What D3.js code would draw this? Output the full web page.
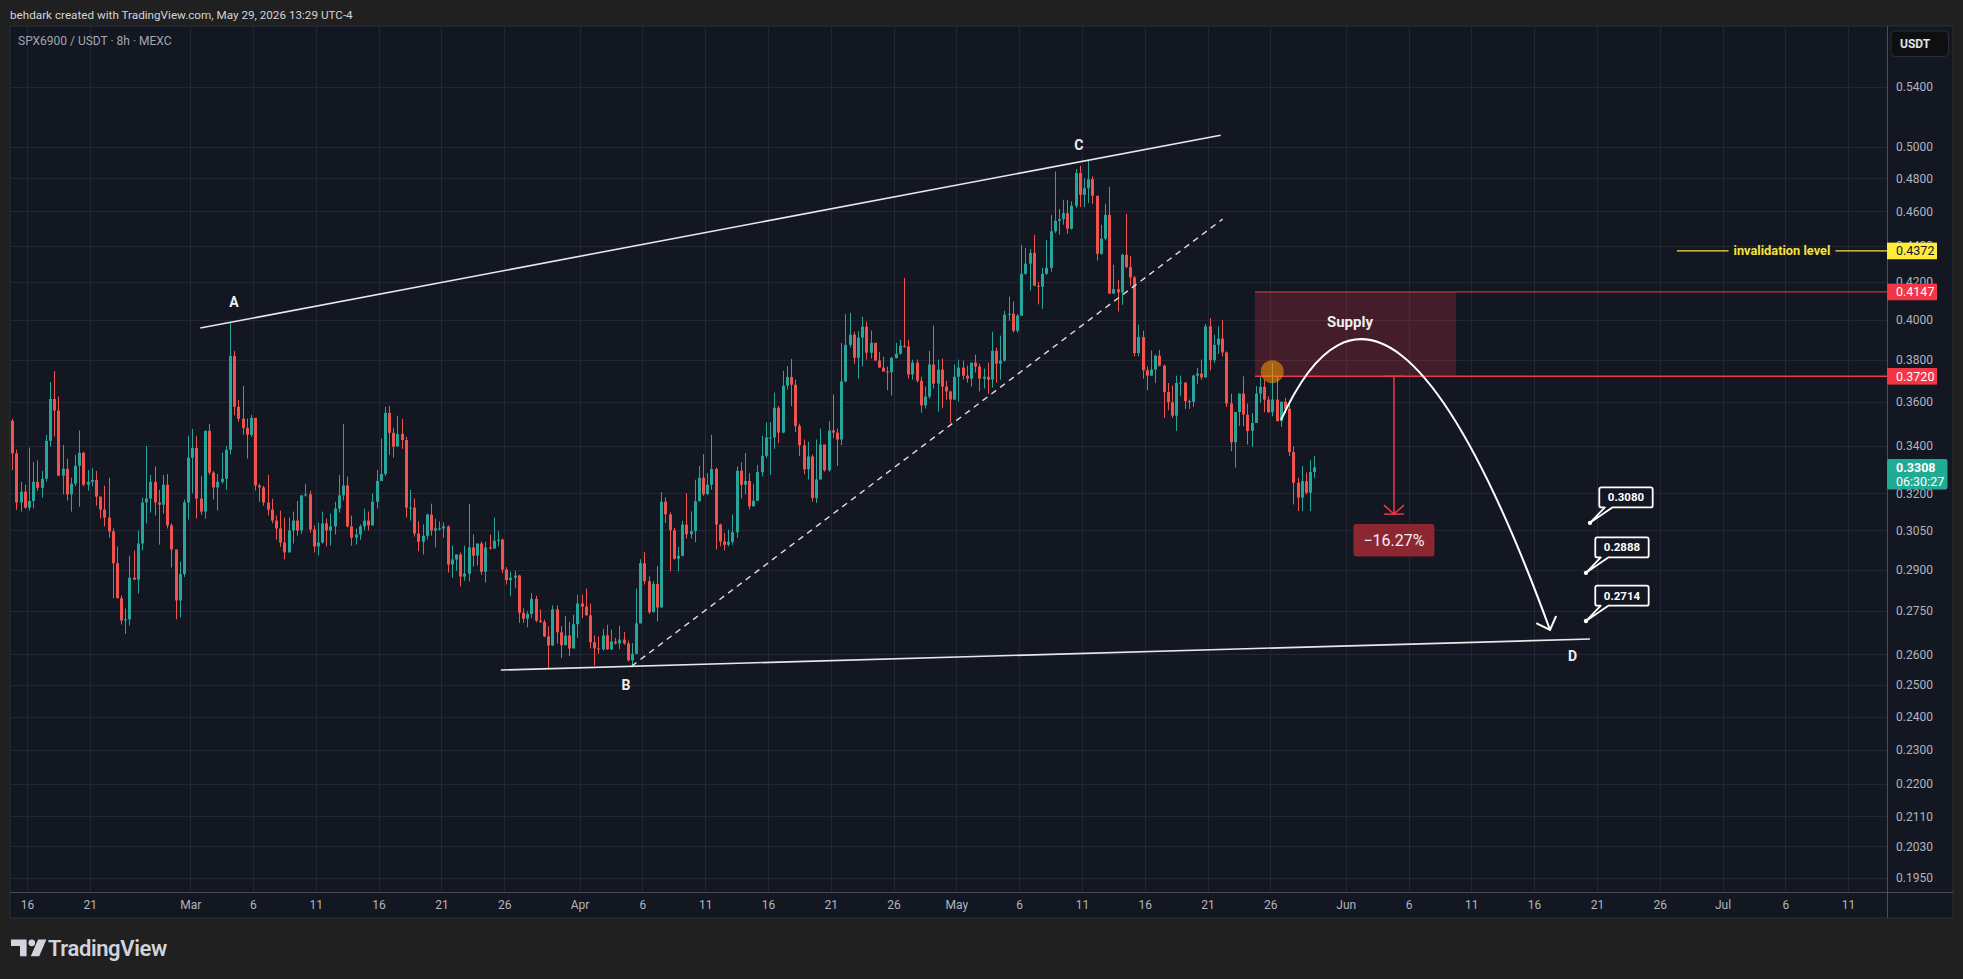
<!DOCTYPE html>
<html><head><meta charset="utf-8">
<script src="https://cdn.jsdelivr.net/npm/d3@7"></script>
<style>
html,body{margin:0;padding:0;background:#202020;overflow:hidden;}
svg{display:block;}
text{font-family:Roboto,"Noto Sans",sans-serif;}
</style></head><body>
<svg id="c" width="1963" height="979"></svg>
<script>
// ================= DATA =================
const headerText = "behdark created with TradingView.com, May 29, 2026 13:29 UTC-4";
const symbolText = "SPX6900 / USDT · 8h · MEXC";
const firstCandleTime = "2026-02-14T20:00:00Z";   // 8h candles
const candleHours = 8;
const firstOpen = 0.3513;
const closes = [
0.3368,0.3162,0.3206,0.3141,0.3168,0.3247,0.3222,0.3260,0.3423,0.3613,
0.3559,0.3273,0.3302,0.3195,0.3239,0.3315,0.3371,0.3235,0.3247,0.3255,
0.3186,0.3133,0.3101,0.3046,0.2924,0.2795,0.2716,0.2720,0.2870,0.2863,
0.2999,0.3162,0.3178,0.3247,0.3162,0.3153,0.3235,0.3070,0.2976,0.2787,
0.2884,0.3162,0.3350,0.3392,0.3178,0.3125,0.3468,0.3286,0.3224,0.3247,
0.3260,0.3384,0.3819,0.3577,0.3522,0.3481,0.3450,0.3526,0.3232,0.3224,
0.3162,0.3133,0.3089,0.3058,0.3003,0.2965,0.3050,0.3089,0.3050,0.3191,
0.3195,0.3054,0.2988,0.3003,0.3078,0.3050,0.3066,0.3137,0.3191,0.3232,
0.3066,0.3022,0.3034,0.3066,0.3089,0.3070,0.3165,0.3251,0.3280,0.3549,
0.3459,0.3398,0.3454,0.3427,0.3141,0.3141,0.3038,0.3006,0.3029,0.3113,
0.3050,0.3058,0.3058,0.3066,0.2919,0.2938,0.2957,0.2874,0.2885,0.2984,
0.2953,0.2999,0.2892,0.2984,0.2980,0.3010,0.3014,0.2900,0.2861,0.2870,
0.2878,0.2743,0.2722,0.2739,0.2793,0.2716,0.2711,0.2661,0.2630,0.2755,
0.2675,0.2631,0.2664,0.2620,0.2703,0.2776,0.2765,0.2734,0.2641,0.2620,
0.2617,0.2664,0.2617,0.2643,0.2637,0.2650,0.2637,0.2580,0.2602,0.2706,
0.2924,0.2857,0.2745,0.2847,0.2762,0.3165,0.3114,0.3050,0.2941,0.2952,
0.3073,0.3035,0.3047,0.3167,0.3264,0.3196,0.3235,0.3301,0.3073,0.3007,
0.2994,0.3006,0.3043,0.3294,0.3235,0.3251,0.3146,0.3169,0.3288,0.3358,
0.3438,0.3438,0.3572,0.3460,0.3675,0.3717,0.3680,0.3489,0.3404,0.3300,
0.3355,0.3180,0.3257,0.3407,0.3296,0.3469,0.3460,0.3429,0.3696,0.3874,
0.3925,0.3810,0.3910,0.3966,0.3835,0.3884,0.3796,0.3762,0.3743,0.3740,
0.3809,0.3830,0.3869,0.3866,0.3728,0.3786,0.3699,0.3583,0.3624,0.3777,
0.3685,0.3752,0.3671,0.3648,0.3610,0.3718,0.3762,0.3723,0.3709,0.3786,
0.3767,0.3709,0.3718,0.3704,0.3844,0.3781,0.3796,0.4027,0.4032,0.3945,
0.4022,0.4245,0.4301,0.4361,0.4180,0.4175,0.4245,0.4278,0.4484,0.4545,
0.4555,0.4590,0.4499,0.4634,0.4833,0.4700,0.4740,0.4795,0.4694,0.4356,
0.4442,0.4580,0.4138,0.4162,0.4145,0.4350,0.4282,0.4225,0.3833,0.3913,
0.3749,0.3723,0.3752,0.3820,0.3771,0.3645,0.3598,0.3536,0.3688,0.3690,
0.3603,0.3600,0.3723,0.3733,0.3715,0.3967,0.3798,0.3874,0.3905,0.3836,
0.3592,0.3417,0.3553,0.3638,0.3541,0.3467,0.3503,0.3638,0.3670,0.3610,
0.3552,0.3610,0.3511,0.3600,0.3567,0.3374,0.3243,0.3182,0.3250,0.3202,
0.3289,0.3308];
const highs = [
0.3522,0.3384,0.3247,0.3235,0.3394,0.3332,0.3338,0.3293,0.3450,0.3693,
0.3745,0.3624,0.3405,0.3345,0.3265,0.3362,0.3469,0.3375,0.3297,0.3306,
0.3293,0.3186,0.3231,0.3264,0.3058,0.2988,0.2805,0.2758,0.2952,0.2972,
0.3050,0.3181,0.3401,0.3276,0.3312,0.3214,0.3276,0.3280,0.3078,0.2975,
0.2930,0.3174,0.3445,0.3476,0.3445,0.3272,0.3468,0.3499,0.3293,0.3280,
0.3371,0.3401,0.3990,0.3844,0.3608,0.3674,0.3523,0.3540,0.3526,0.3239,
0.3231,0.3276,0.3177,0.3109,0.3129,0.3101,0.3101,0.3125,0.3168,0.3191,
0.3239,0.3210,0.3070,0.3082,0.3125,0.3097,0.3117,0.3165,0.3276,0.3499,
0.3269,0.3109,0.3058,0.3074,0.3137,0.3125,0.3199,0.3297,0.3433,0.3576,
0.3580,0.3481,0.3536,0.3522,0.3441,0.3214,0.3178,0.3086,0.3074,0.3117,
0.3157,0.3097,0.3086,0.3082,0.3070,0.2991,0.2957,0.2965,0.2991,0.3157,
0.3034,0.2999,0.3006,0.3006,0.3034,0.3101,0.3047,0.3018,0.2909,0.2892,
0.2896,0.2881,0.2759,0.2749,0.2814,0.2804,0.2755,0.2719,0.2696,0.2769,
0.2769,0.2696,0.2732,0.2711,0.2736,0.2808,0.2808,0.2830,0.2776,0.2664,
0.2661,0.2687,0.2701,0.2684,0.2656,0.2698,0.2676,0.2647,0.2638,0.2830,
0.2939,0.2966,0.2875,0.2857,0.2914,0.3204,0.3183,0.3122,0.3060,0.2986,
0.3088,0.3200,0.3126,0.3256,0.3314,0.3365,0.3284,0.3450,0.3308,0.3077,
0.3040,0.3053,0.3113,0.3312,0.3330,0.3370,0.3284,0.3239,0.3318,0.3446,
0.3505,0.3507,0.3643,0.3581,0.3746,0.3769,0.3804,0.3704,0.3500,0.3429,
0.3419,0.3363,0.3429,0.3478,0.3407,0.3511,0.3634,0.3478,0.3883,0.4030,
0.4037,0.3940,0.3942,0.4016,0.3991,0.3946,0.3884,0.3839,0.3815,0.3767,
0.3814,0.3884,0.3899,0.4223,0.3899,0.3801,0.3801,0.3718,0.3671,0.3844,
0.3971,0.3801,0.3806,0.3699,0.3652,0.3777,0.3801,0.3796,0.3772,0.3786,
0.3825,0.3781,0.3757,0.3786,0.3940,0.3859,0.3920,0.4048,0.4122,0.4096,
0.4032,0.4406,0.4389,0.4384,0.4464,0.4201,0.4278,0.4435,0.4580,0.4843,
0.4614,0.4670,0.4670,0.4660,0.4858,0.4879,0.4801,0.4912,0.4812,0.4694,
0.4522,0.4646,0.4748,0.4295,0.4212,0.4356,0.4586,0.4345,0.4234,0.3976,
0.3945,0.3768,0.3846,0.3825,0.3849,0.3777,0.3688,0.3676,0.3723,0.3723,
0.3688,0.3610,0.3728,0.3760,0.3801,0.3980,0.4010,0.3925,0.3967,0.4001,
0.3841,0.3638,0.3553,0.3638,0.3720,0.3592,0.3548,0.3673,0.3720,0.3704,
0.3626,0.3785,0.3720,0.3600,0.3618,0.3595,0.3400,0.3264,0.3314,0.3286,
0.3340,0.3357];
const lows = [
0.3297,0.3132,0.3125,0.3137,0.3129,0.3138,0.3210,0.3182,0.3249,0.3398,
0.3442,0.3273,0.3195,0.3170,0.3125,0.3228,0.3145,0.3228,0.3211,0.3228,
0.3149,0.3097,0.3066,0.3022,0.2795,0.2795,0.2702,0.2669,0.2699,0.2861,
0.2812,0.2972,0.3078,0.3121,0.3109,0.2995,0.3117,0.3058,0.2908,0.2720,
0.2727,0.2873,0.3093,0.3199,0.3097,0.3113,0.3097,0.3277,0.3174,0.3129,
0.3239,0.3214,0.3364,0.3538,0.3508,0.3450,0.3346,0.3441,0.3211,0.3165,
0.3149,0.3109,0.3078,0.3014,0.2986,0.2938,0.2969,0.2999,0.3030,0.3037,
0.3186,0.3041,0.2965,0.2953,0.2999,0.2988,0.2991,0.3034,0.3121,0.3170,
0.3062,0.2991,0.2995,0.3014,0.3050,0.3050,0.3070,0.3137,0.3257,0.3272,
0.3362,0.3351,0.3398,0.3388,0.3101,0.3089,0.3026,0.2969,0.2957,0.3014,
0.3030,0.2984,0.3050,0.3022,0.2889,0.2870,0.2896,0.2838,0.2859,0.2856,
0.2911,0.2915,0.2881,0.2852,0.2976,0.2980,0.2988,0.2887,0.2845,0.2802,
0.2831,0.2708,0.2708,0.2692,0.2724,0.2710,0.2708,0.2658,0.2553,0.2628,
0.2637,0.2588,0.2630,0.2594,0.2620,0.2656,0.2724,0.2734,0.2620,0.2563,
0.2602,0.2613,0.2615,0.2615,0.2633,0.2617,0.2632,0.2577,0.2558,0.2602,
0.2706,0.2845,0.2739,0.2745,0.2713,0.2762,0.3080,0.2894,0.2937,0.2894,
0.2950,0.3018,0.3018,0.3004,0.3166,0.3189,0.3193,0.3214,0.2976,0.2988,
0.2973,0.2988,0.2994,0.3021,0.3179,0.3196,0.3133,0.3153,0.3169,0.3270,
0.3348,0.3277,0.3388,0.3413,0.3457,0.3657,0.3579,0.3462,0.3357,0.3279,
0.3257,0.3165,0.3160,0.3257,0.3290,0.3290,0.3435,0.3314,0.3404,0.3690,
0.3861,0.3781,0.3709,0.3767,0.3801,0.3806,0.3796,0.3762,0.3743,0.3654,
0.3629,0.3806,0.3825,0.3860,0.3709,0.3704,0.3690,0.3550,0.3569,0.3615,
0.3662,0.3555,0.3570,0.3610,0.3502,0.3610,0.3601,0.3704,0.3690,0.3671,
0.3738,0.3648,0.3662,0.3638,0.3666,0.3690,0.3704,0.3791,0.3996,0.3935,
0.3935,0.4022,0.4239,0.4154,0.4180,0.4081,0.4058,0.4239,0.4256,0.4474,
0.4464,0.4522,0.4470,0.4493,0.4620,0.4626,0.4626,0.4650,0.4644,0.4319,
0.4350,0.4432,0.4138,0.4138,0.4044,0.4079,0.4276,0.4180,0.3817,0.3817,
0.3709,0.3654,0.3723,0.3688,0.3768,0.3526,0.3561,0.3526,0.3467,0.3626,
0.3567,0.3567,0.3576,0.3685,0.3704,0.3712,0.3749,0.3785,0.3829,0.3817,
0.3576,0.3378,0.3307,0.3489,0.3489,0.3407,0.3397,0.3511,0.3595,0.3552,
0.3548,0.3533,0.3511,0.3486,0.3548,0.3357,0.3154,0.3127,0.3127,0.3195,
0.3127,0.3264];

const xTickDates = ["2026-02-16","2026-02-21","2026-03-01","2026-03-06","2026-03-11","2026-03-16","2026-03-21","2026-03-26",
  "2026-04-01","2026-04-06","2026-04-11","2026-04-16","2026-04-21","2026-04-26","2026-05-01","2026-05-06","2026-05-11",
  "2026-05-16","2026-05-21","2026-05-26","2026-06-01","2026-06-06","2026-06-11","2026-06-16","2026-06-21","2026-06-26",
  "2026-07-01","2026-07-06","2026-07-11"];
const xTickLabels = ["16","21","Mar","6","11","16","21","26","Apr","6","11","16","21","26","May","6","11","16","21","26",
  "Jun","6","11","16","21","26","Jul","6","11"];
const yTicks = [0.54,0.50,0.48,0.46,0.44,0.42,0.40,0.38,0.36,0.34,0.32,0.305,0.29,0.275,0.26,0.25,0.24,0.23,0.22,0.211,0.203,0.195];

// annotations (time, price)
const upperLine  = [["2026-03-01T19:18Z",0.3959],["2026-05-22T01:00Z",0.5075]];
const lowerLine  = [["2026-03-25T17:30Z",0.2548],["2026-06-20T10:48Z",0.2652]];
const dashedLine = [["2026-04-05T03:36Z",0.2561],["2026-05-22T04:48Z",0.4555]];
// projected arc: start, control, end (quadratic curve)
const arcPoints = [["2026-05-26T20:24Z",0.3517],["2026-06-04T07:55Z",0.4754],["2026-06-17T06:29Z",0.2683]];
const waveLabels = ["A","B","C","D"];
const waveLabelPos = [["2026-03-04T11:45Z",0.4095],["2026-04-04T16:48Z",0.2500],["2026-05-10T18:14Z",0.5010],["2026-06-19T01:26Z",0.2595]];
const supplyBox = [["2026-05-24T18:40Z",0.4147],["2026-06-09T18:40Z",0.3720]];
const supplyLabel = ["Supply","2026-06-01T08:10Z",0.3990];
const touchPoint = ["2026-05-26T03:36Z",0.3742];
const invalidation = ["2026-06-27T08:53Z",0.4372,"invalidation level"];
const rangeTool = ["2026-06-04T20:10Z",0.3720,0.3115,"\u221216.27%",0.3012];
const targetTimes = ["2026-06-20T10:48Z","2026-06-20T03:07Z","2026-06-20T03:07Z"];
const targetPrices = [0.3080,0.2888,0.2714];
const levelPrices = [0.4372,0.4147,0.3720];
const levelColors = ["#ffeb3b","#f23645","#f23645"];
const lastPrice = 0.3308, countdown = "06:30:27";

// ================= LAYOUT =================
const svg = d3.select("#c");
const PANE = {x0:10, y0:26, x1:1953, y1:918};
const PLOT = {x0:10, y0:26, x1:1887, y1:892};
const BG = "#131722", GRID = "#232733", AXIS_TXT = "#b2b5be";
const UP = "#26a69a", DOWN = "#ef5350";

const x = d3.scaleUtc().domain([new Date("2026-03-01T00:00:00Z"), new Date("2026-07-01T00:00:00Z")]).range([190.2, 1722.5]);
const y = d3.scaleLog().domain([0.54, 0.195]).range([87, 877.7]);
const P = d => [x(new Date(d[0])), y(d[1])];

// header
svg.append("rect").attr("width",1963).attr("height",979).attr("fill","#202020");
svg.append("text").attr("x",10).attr("y",18.5).attr("fill","#d1d4dc").attr("font-size",11.7).text(headerText);

// pane
svg.append("rect").attr("x",PANE.x0).attr("y",PANE.y0).attr("width",PANE.x1-PANE.x0).attr("height",PANE.y1-PANE.y0)
  .attr("fill",BG).attr("stroke","#2a2e39").attr("stroke-width",1);

const defs = svg.append("defs");
defs.append("clipPath").attr("id","plotclip").append("rect")
  .attr("x",PLOT.x0).attr("y",PLOT.y0).attr("width",PLOT.x1-PLOT.x0).attr("height",PLOT.y1-PLOT.y0);
defs.append("marker").attr("id","arrowW").attr("markerUnits","userSpaceOnUse").attr("markerWidth",30).attr("markerHeight",30)
  .attr("viewBox","-15 -15 30 30").attr("refX",0).attr("refY",0).attr("orient","auto")
  .append("path").attr("d","M-10.5,-10 L0,0 L-10.5,10").attr("fill","none").attr("stroke","#ffffff").attr("stroke-width",2).attr("stroke-linecap","round");

const plot = svg.append("g").attr("clip-path","url(#plotclip)");

// grid
plot.selectAll(".vg").data(xTickDates).join("line")
  .attr("x1",d=>Math.round(x(new Date(d+"T00:00:00Z")))+0.5).attr("x2",d=>Math.round(x(new Date(d+"T00:00:00Z")))+0.5)
  .attr("y1",PLOT.y0).attr("y2",PLOT.y1).attr("stroke",GRID).attr("stroke-width",1);
plot.selectAll(".hg").data(yTicks).join("line")
  .attr("y1",d=>Math.round(y(d))+0.5).attr("y2",d=>Math.round(y(d))+0.5)
  .attr("x1",PLOT.x0).attr("x2",PLOT.x1).attr("stroke",GRID).attr("stroke-width",1);

// candles
const t0 = new Date(firstCandleTime).getTime();
const candles = closes.map((c,i)=>({t:new Date(t0 + i*candleHours*3600e3), o: i===0 ? firstOpen : closes[i-1], h:highs[i], l:lows[i], c}));
const cg = plot.append("g");
candles.forEach(d=>{
  const cx = Math.round(x(d.t));
  const col = d.c >= d.o ? UP : DOWN;
  const hi = Math.max(d.h, d.o, d.c), lo = Math.min(d.l, d.o, d.c);
  cg.append("rect").attr("x",cx).attr("y",y(hi)).attr("width",1).attr("height",Math.max(1,y(lo)-y(hi))).attr("fill",col);
  const top = y(Math.max(d.o,d.c)), bot = y(Math.min(d.o,d.c));
  cg.append("rect").attr("x",cx-1).attr("y",top).attr("width",3).attr("height",Math.max(1,bot-top)).attr("fill",col);
});

// supply box & level lines
const sb0 = P(supplyBox[0]), sb1 = P(supplyBox[1]);
plot.append("rect").attr("x",sb0[0]).attr("y",sb0[1]).attr("width",sb1[0]-sb0[0]).attr("height",sb1[1]-sb0[1])
  .attr("fill","rgba(242,54,69,0.22)");
[supplyBox[0][1], supplyBox[1][1]].forEach((p,i)=>{
  plot.append("line").attr("x1",sb0[0]).attr("x2",PLOT.x1).attr("y1",y(p)).attr("y2",y(p))
    .attr("stroke","#f23645").attr("stroke-width",i===0?1:1.4);
});
plot.append("text").attr("x",x(new Date(supplyLabel[1]))).attr("y",y(supplyLabel[2])).attr("dy","0.35em")
  .attr("text-anchor","middle").attr("fill","#eeeeee").attr("font-weight","bold").attr("font-size",15).text(supplyLabel[0]);

// invalidation level
const invX = x(new Date(invalidation[0])), invY = y(invalidation[1]);
const invT = plot.append("text").attr("x",(invX+PLOT.x1)/2).attr("y",invY).attr("dy","0.35em").attr("text-anchor","middle")
  .attr("fill","#f5e43c").attr("font-weight","bold").attr("font-size",12.8).text(invalidation[2]);
const invW = invT.node().getComputedTextLength();
plot.append("line").attr("x1",invX).attr("x2",(invX+PLOT.x1)/2-invW/2-5).attr("y1",invY).attr("y2",invY).attr("stroke","#f5e43c").attr("stroke-width",1.2);
plot.append("line").attr("x1",(invX+PLOT.x1)/2+invW/2+5).attr("x2",PLOT.x1).attr("y1",invY).attr("y2",invY).attr("stroke","#f5e43c").attr("stroke-width",1.2);

// trend lines
const ln = d3.line();
plot.append("path").attr("d",ln(upperLine.map(P))).attr("stroke","#e8e8e8").attr("stroke-width",1.6).attr("fill","none");
plot.append("path").attr("d",ln(lowerLine.map(P))).attr("stroke","#e8e8e8").attr("stroke-width",1.6).attr("fill","none");
plot.append("path").attr("d",ln(dashedLine.map(P))).attr("stroke","#e0e0e0").attr("stroke-width",1.4).attr("fill","none").attr("stroke-dasharray","6,5");

// touch circle
plot.append("circle").attr("cx",P(touchPoint)[0]).attr("cy",P(touchPoint)[1]).attr("r",11.5).attr("fill","rgba(255,152,0,0.55)");

// projected arc
const a0 = P(arcPoints[0]), a1 = P(arcPoints[1]), a2 = P(arcPoints[2]);
const arcPath = d3.path(); arcPath.moveTo(a0[0],a0[1]); arcPath.quadraticCurveTo(a1[0],a1[1],a2[0],a2[1]);
plot.append("path").attr("d",arcPath.toString())
  .attr("stroke","#ffffff").attr("stroke-width",2).attr("fill","none").attr("marker-end","url(#arrowW)");

// wave labels
plot.selectAll(".wl").data(waveLabels).join("text").attr("x",(d,i)=>P(waveLabelPos[i])[0]).attr("y",(d,i)=>P(waveLabelPos[i])[1])
  .attr("dy","0.35em").attr("text-anchor","middle").attr("fill","#eeeeee").attr("font-weight","bold").attr("font-size",14).text(d=>d);

// price range tool
const rx = x(new Date(rangeTool[0])), ry0 = y(rangeTool[1]), ry1 = y(rangeTool[2]);
const RED = "#f23645";
plot.append("line").attr("x1",rx).attr("x2",rx).attr("y1",ry0).attr("y2",ry1).attr("stroke",RED).attr("stroke-width",1.5);
plot.append("line").attr("x1",rx-9).attr("x2",rx+9).attr("y1",ry0).attr("y2",ry0).attr("stroke",RED).attr("stroke-width",1.5);
plot.append("line").attr("x1",rx-10).attr("x2",rx+10).attr("y1",ry1).attr("y2",ry1).attr("stroke",RED).attr("stroke-width",1.5);
plot.append("path").attr("d",`M${rx-10},${ry1-9} L${rx},${ry1} L${rx+10},${ry1-9}`).attr("stroke",RED).attr("stroke-width",1.5).attr("fill","none");
const ly = y(rangeTool[4]);
plot.append("rect").attr("x",rx-40.5).attr("y",ly-16.3).attr("width",81).attr("height",32.6).attr("rx",3).attr("fill","#8c2630");
plot.append("text").attr("x",rx).attr("y",ly).attr("dy","0.35em").attr("text-anchor","middle").attr("fill","#f0f0f0")
  .attr("font-size",16).text(rangeTool[3]);

// target callouts
targetPrices.forEach((p,i)=>{
  const dx = x(new Date(targetTimes[i])), dy = y(p);
  const bx = dx+9.3, by = dy-35.4, w = 53.4, h = 20;
  plot.append("path").attr("d",`M${bx+2},${by} H${bx+w-2} Q${bx+w},${by} ${bx+w},${by+2} V${by+h-2} Q${bx+w},${by+h} ${bx+w-2},${by+h} H${bx+13} L${dx},${dy} L${bx+5.5},${by+h} H${bx+2} Q${bx},${by+h} ${bx},${by+h-2} V${by+2} Q${bx},${by} ${bx+2},${by} Z`)
    .attr("fill",BG).attr("stroke","#ffffff").attr("stroke-width",1.8).attr("stroke-linejoin","round");
  plot.append("circle").attr("cx",dx).attr("cy",dy).attr("r",2.2).attr("fill","#ffffff");
  plot.append("text").attr("x",bx+w/2).attr("y",by+h/2).attr("dy","0.35em").attr("text-anchor","middle")
    .attr("fill","#ffffff").attr("font-weight","bold").attr("font-size",11.5).text(p.toFixed(4));
});

// symbol text
svg.append("text").attr("x",18).attr("y",45).attr("fill","#a3a6af").attr("font-size",12).text(symbolText);

// axes separators
svg.append("line").attr("x1",PLOT.x1+0.5).attr("x2",PLOT.x1+0.5).attr("y1",PANE.y0).attr("y2",PANE.y1).attr("stroke","#4a4d57");
svg.append("line").attr("x1",PANE.x0).attr("x2",PANE.x1).attr("y1",PLOT.y1+0.5).attr("y2",PLOT.y1+0.5).attr("stroke","#4a4d57");

// y axis
const yAxis = svg.append("g").attr("transform",`translate(${PLOT.x1},0)`)
  .call(d3.axisRight(y).tickValues(yTicks).tickFormat(d3.format(".4f")).tickSize(0).tickPadding(9));
yAxis.select(".domain").remove();
yAxis.selectAll("text").attr("fill",AXIS_TXT).attr("font-size",12).attr("font-family","Roboto,'Noto Sans',sans-serif");

// x axis
const xAxis = svg.append("g").attr("transform",`translate(0,${PLOT.y1})`)
  .call(d3.axisBottom(x).tickValues(xTickDates.map(d=>new Date(d+"T00:00:00Z"))).tickFormat((d,i)=>xTickLabels[i]).tickSize(0).tickPadding(8));
xAxis.select(".domain").remove();
xAxis.selectAll("text").attr("fill",AXIS_TXT).attr("font-size",12).attr("font-family","Roboto,'Noto Sans',sans-serif");

// price labels on axis
levelPrices.forEach((p,i)=>{
  const yy = y(p);
  svg.append("rect").attr("x",PLOT.x1).attr("y",yy-8.3).attr("width",50).attr("height",16.6).attr("fill",levelColors[i]);
  svg.append("text").attr("x",PLOT.x1+9).attr("y",yy).attr("dy","0.35em").attr("font-size",12.5)
    .attr("fill",i===0?"#131722":"#ffffff").text(p.toFixed(4));
});
const lpY = y(lastPrice);
svg.append("rect").attr("x",PLOT.x1).attr("y",lpY-8.4).attr("width",60.5).attr("height",30.5).attr("rx",2).attr("fill","#22ab94");
svg.append("text").attr("x",PLOT.x1+9).attr("y",lpY).attr("dy","0.35em").attr("font-size",12.5).attr("font-weight","bold").attr("fill","#ffffff").text(lastPrice.toFixed(4));
svg.append("text").attr("x",PLOT.x1+9).attr("y",lpY+14.5).attr("dy","0.35em").attr("font-size",12.5).attr("fill","#ffffff").text(countdown);

// currency button
svg.append("rect").attr("x",1891).attr("y",31).attr("width",57.5).attr("height",25.5).attr("rx",4).attr("fill","#0f0f0f").attr("stroke","#2a2e39");
svg.append("text").attr("x",1900).attr("y",44).attr("dy","0.35em").attr("font-size",12).attr("font-weight","bold").attr("fill","#e0e3eb").text("USDT");

// TradingView logo
const logo = svg.append("g").attr("transform","translate(11,939.5) scale(1.2)").attr("fill","#d1d4dc");
logo.append("path").attr("d","M0,0 H13 V14 H7.5 V5.5 H0 Z");
logo.append("circle").attr("cx",17.3).attr("cy",2.8).attr("r",2.8);
logo.append("path").attr("d","M22.5,0 H29.5 L23.5,14 H16.5 Z");
svg.append("text").attr("x",48).attr("y",948).attr("dy","0.35em").attr("font-size",22).attr("font-weight",600)
  .attr("fill","#d1d4dc").attr("letter-spacing","-0.4").text("TradingView");
</script>
</body></html>
